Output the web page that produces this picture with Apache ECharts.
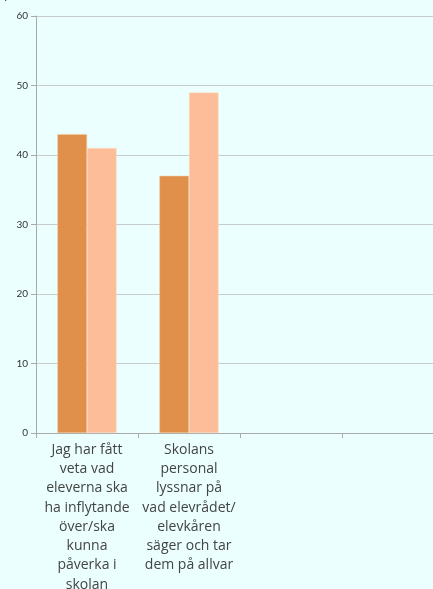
<!DOCTYPE html>
<html><head><meta charset="utf-8">
<script src="https://cdn.jsdelivr.net/npm/echarts@6/dist/echarts.min.js"></script>
<style>html,body{margin:0;padding:0;background:#eafffe;}#c{width:433px;height:589px;}</style>
</head><body><div id="c"></div>
<script>
const categories = [
  "Jag har fått\nveta vad\neleverna ska\nha inflytande\növer/ska\nkunna\npåverka i\nskolan",
  "Skolans\npersonal\nlyssnar på\nvad elevrådet/\nelevkåren\nsäger och tar\ndem på allvar",
  "",
  ""
];
const seriesA = [43, 37, null, null];
const seriesB = [41, 49, null, null];
const yTicks = { min: 0, max: 60, interval: 10 };
const titleText = "procent";

const chart = echarts.init(document.getElementById('c'), null, {renderer: 'canvas'});
chart.setOption({
  backgroundColor: '#eafffe',
  animation: false,
  graphic: [{ type: 'text', left: 4, top: -12, style: { text: titleText, font: '13px "Open Sans"', fill: '#444' } }],
  grid: { left: 36, right: -11, top: 16, bottom: 156, containLabel: false, outerBoundsMode: 'none' },
  xAxis: {
    type: 'category', data: categories,
    axisLine: { lineStyle: { color: '#aaaaaa' } },
    axisTick: { show: true, alignWithLabel: false, lineStyle: { color: '#aaaaaa' } },
    axisLabel: { interval: 0, color: '#444', fontFamily: 'Open Sans', fontSize: 14, lineHeight: 19.3, margin: 7 }
  },
  yAxis: {
    type: 'value', min: yTicks.min, max: yTicks.max, interval: yTicks.interval,
    axisLine: { show: true, lineStyle: { color: '#aaaaaa' } },
    axisTick: { show: true, length: 5, lineStyle: { color: '#aaaaaa' } },
    axisLabel: { color: '#333', fontSize: 10, fontFamily: 'Lato', margin: 8 },
    splitLine: { lineStyle: { color: '#c8cccc' } }
  },
  series: [
    { type: 'bar', data: seriesA, barGap: '0%', barCategoryGap: '42%',
      itemStyle: { color: '#e0904a', borderColor: '#f3c9a5', borderWidth: 0.5 } },
    { type: 'bar', data: seriesB,
      itemStyle: { color: '#fcbd98', borderColor: '#fde0cc', borderWidth: 0.5 } }
  ]
});
</script></body></html>
